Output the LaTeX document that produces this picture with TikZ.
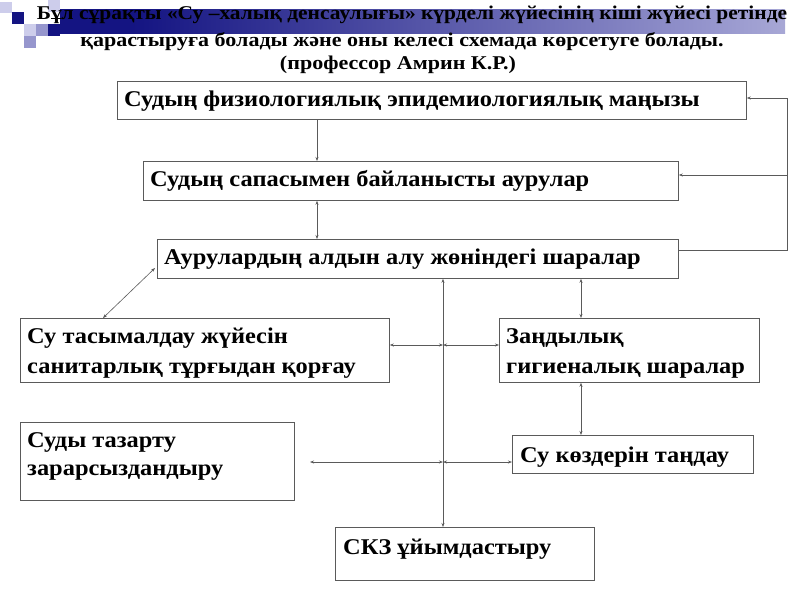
\documentclass[tikz,border=0pt]{standalone}
\usepackage{fontspec}
\setmainfont{Liberation Serif}
\newfontfamily\boxfont{Liberation Serif}[FakeStretch=1.085]
\newfontfamily\ttlfont{Liberation Serif}[FakeStretch=1.13]
\newfontfamily\ttlfonta{Liberation Serif}[FakeStretch=1.10]
\usetikzlibrary{arrows.meta}
\definecolor{navyc}{RGB}{20,20,130}
\definecolor{lavl}{RGB}{205,205,235}
\definecolor{lavm}{RGB}{150,150,205}
\definecolor{linec}{RGB}{90,90,90}
\pgfdeclarehorizontalshading{barshade}{100bp}{color(0bp)=(navyc); color(30bp)=(navyc); color(70bp)=(lavm); color(100bp)=(white)}
\tikzset{
  boxc/.style={draw=linec, line width=0.8pt, rectangle, inner sep=0pt, anchor=north west},
  txt/.style={font=\boxfont\fontsize{22.5}{29}\selectfont\bfseries, inner sep=0pt, anchor=base west},
  ttl/.style={font=\ttlfont\fontsize{19.5}{22}\selectfont\bfseries, inner sep=0pt, anchor=base},
  ttla/.style={font=\ttlfonta\fontsize{19.5}{22}\selectfont\bfseries, inner sep=0pt, anchor=base},
  conn/.style={draw=linec, line width=0.6pt},
  bi/.style={conn, {Stealth[length=4pt,width=3pt]}-{Stealth[length=4pt,width=3pt]}},
  uni/.style={conn, -{Stealth[length=4pt,width=3pt]}},
}
\begin{document}
\begin{tikzpicture}[x=1pt,y=-1pt]
\useasboundingbox (0,0) rectangle (800,600);
% decoration
\shade[shading=barshade] (60,9) rectangle (785,33);
\fill[lavl] (0,2) rectangle (12,13);
\fill[lavl] (48,0) rectangle (60,12);
\fill[navyc] (12,12) rectangle (24,24);
\fill[lavl] (24,24) rectangle (36,36);
\fill[lavm] (36,24) rectangle (48,36);
\fill[navyc] (48,24) rectangle (60,36);
\fill[lavm] (24,36) rectangle (36,48);
% title
\node[ttla] (t1) at (412,19) {Бұл сұрақты «Су –халық денсаулығы» күрделі жүйесінің кіші жүйесі ретінде};
\node[ttl] (t2) at (402,46) {қарастыруға болады және оны келесі схемада көрсетуге болады.};
\node[ttl] (t3) at (398,69) {(профессор Амрин К.Р.)};
% boxes
\node[boxc, minimum width=629pt, minimum height=38pt] (A) at (117,81) {};
\node[boxc, minimum width=535pt, minimum height=39pt] (B) at (143,161) {};
\node[boxc, minimum width=521pt, minimum height=39pt] (C) at (157,239) {};
\node[boxc, minimum width=369pt, minimum height=64pt] (D) at (20,318) {};
\node[boxc, minimum width=260pt, minimum height=64pt] (E) at (499,318) {};
\node[boxc, minimum width=274pt, minimum height=78pt] (F) at (20,422) {};
\node[boxc, minimum width=241pt, minimum height=38pt] (G) at (512,435) {};
\node[boxc, minimum width=259pt, minimum height=53pt] (H) at (335,527) {};
% texts
\node[txt] (At) at (124,106) {Судың физиологиялық эпидемиологиялық маңызы};
\node[txt] (Bt) at (150,186) {Судың сапасымен байланысты аурулар};
\node[txt] (Ct) at (164,264) {Аурулардың алдын алу жөніндегі шаралар};
\node[txt] (Dt1) at (27,343) {Су тасымалдау жүйесін};
\node[txt] (Dt2) at (27,373) {санитарлық тұрғыдан қорғау};
\node[txt] (Et1) at (506,343) {Заңдылық};
\node[txt] (Et2) at (506,373) {гигиеналық шаралар};
\node[txt] (Ft1) at (27,447) {Суды тазарту};
\node[txt] (Ft2) at (27,475) {зарарсыздандыру};
\node[txt] (Gt) at (520,462) {Су көздерін таңдау};
\node[txt] (Ht) at (343,554) {СКЗ ұйымдастыру};
% connector coordinates
\coordinate (Rc) at (787,250);
\coordinate (RA) at (787,98);
\coordinate (RB) at (787,175);
\coordinate (Tr) at (443,0);
\coordinate (Vr) at (581,0);
\coordinate (Vl) at (317,0);
\coordinate (Dm) at (443,345);
\coordinate (Fm) at (443,462);
\coordinate (Fe) at (310,462);
\coordinate (Cd) at (155,268);
\coordinate (Dd) at (103,318);
% connectors
\draw[uni] (A.south -| Vl) -- (B.north -| Vl);
\draw[bi] (B.south -| Vl) -- (C.north -| Vl);
\draw[conn] (C.east |- Rc) -- (Rc) -- (RA);
\draw[uni] (RA) -- (A.east |- RA);
\draw[uni] (RB) -- (B.east |- RB);
\draw[bi] (Cd) -- (Dd);
\draw[bi] (C.south -| Tr) -- (H.north -| Tr);
\draw[bi] (D.east |- Dm) -- (Dm);
\draw[bi] (Dm) -- (E.west |- Dm);
\draw[bi] (Fe) -- (Fm);
\draw[bi] (Fm) -- (G.west |- Fm);
\draw[bi] (C.south -| Vr) -- (E.north -| Vr);
\draw[bi] (E.south -| Vr) -- (G.north -| Vr);
\end{tikzpicture}
\end{document}
